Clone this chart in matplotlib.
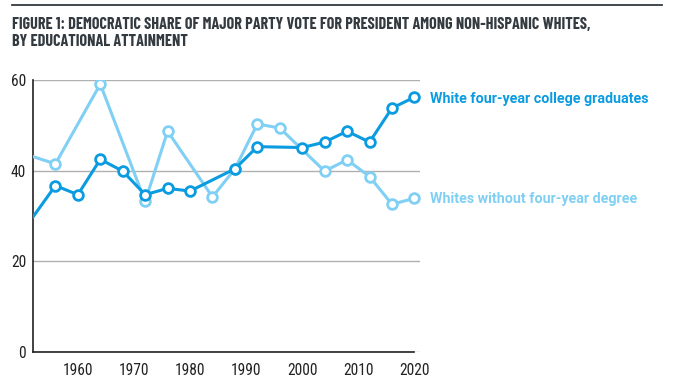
import matplotlib
matplotlib.use("Agg")
from matplotlib import pyplot as plt

# data
grad_years = [1952, 1956, 1960, 1964, 1968, 1972, 1976, 1980, 1988, 1992, 2000, 2004, 2008, 2012, 2016, 2020]
grad_share = [29.8, 36.7, 34.7, 42.5, 39.9, 34.7, 36.1, 35.5, 40.4, 45.3, 45.1, 46.3, 48.7, 46.3, 53.8, 56.2]

nodeg_years = [1952, 1956, 1964, 1972, 1976, 1984, 1988, 1992, 1996, 2004, 2008, 2012, 2016, 2020]
nodeg_share = [43.1, 41.5, 59.1, 33.2, 48.7, 34.2, 40.4, 50.3, 49.4, 39.9, 42.4, 38.7, 32.6, 33.9]

x_ticks = [1960, 1970, 1980, 1990, 2000, 2010, 2020]
y_ticks = [0, 20, 40, 60]

title1 = "FIGURE 1: DEMOCRATIC SHARE OF MAJOR PARTY VOTE FOR PRESIDENT AMONG NON-HISPANIC WHITES,"
title2 = "BY EDUCATIONAL ATTAINMENT"
grad_label = "White four-year college graduates"
nodeg_label = "Whites without four-year degree"

DARK = "#0a9be0"
LIGHT = "#80cff4"
INK = "#333a40"
W, H = 676, 389

fig = plt.figure(figsize=(W / 100, H / 100), dpi=100)
ax = fig.add_axes([33 / W, 37 / H, 387 / W, 272 / H])

ax.plot(nodeg_years, nodeg_share, color=LIGHT, lw=2.2, marker="o", ms=7,
        mfc="white", mec=LIGHT, mew=2, markevery=list(range(1, len(nodeg_years))),
        zorder=3)
ax.plot(grad_years, grad_share, color=DARK, lw=2.2, marker="o", ms=7,
        mfc="white", mec=DARK, mew=2, markevery=list(range(1, len(grad_years))),
        zorder=4)

ax.set_xlim(1952, 2021)
ax.set_ylim(0, 60)
ax.set_xticks(x_ticks)
ax.set_yticks(y_ticks)
ax.grid(axis="y", color="#b0b0b0", lw=1)
ax.set_axisbelow(True)
for s in ["top", "right"]:
    ax.spines[s].set_visible(False)
for s in ["left", "bottom"]:
    ax.spines[s].set_color("#222222")
    ax.spines[s].set_linewidth(1.2)
ax.spines["bottom"].set_bounds(1952, 2020)
ax.tick_params(length=0, labelsize=11.2, colors="#222222")
ax.tick_params(axis="x", pad=8)
ax.tick_params(axis="y", pad=5)
for lab in ax.get_xticklabels() + ax.get_yticklabels():
    lab.set_family("Roboto Condensed")

fig.text(430 / W, 1 - 103.3 / H, grad_label, color=DARK, fontsize=10.25,
         fontweight="bold", family="Roboto", va="baseline")
fig.text(430 / W, 1 - 202.7 / H, nodeg_label, color=LIGHT, fontsize=10.25,
         fontweight="bold", family="Roboto", va="baseline")

fig.text(12 / W, 1 - 29.3 / H, title1, color=INK, fontsize=11.65,
         fontweight="bold", family="Barlow Condensed", va="baseline")
fig.text(12 / W, 1 - 45.7 / H, title2, color=INK, fontsize=11.65,
         fontweight="bold", family="Barlow Condensed", va="baseline")
fig.add_artist(plt.Line2D([12 / W, 662 / W], [1 - 5 / H, 1 - 5 / H],
                          color=INK, lw=1.3, transform=fig.transFigure))

fig.savefig("out.png", dpi=100)
